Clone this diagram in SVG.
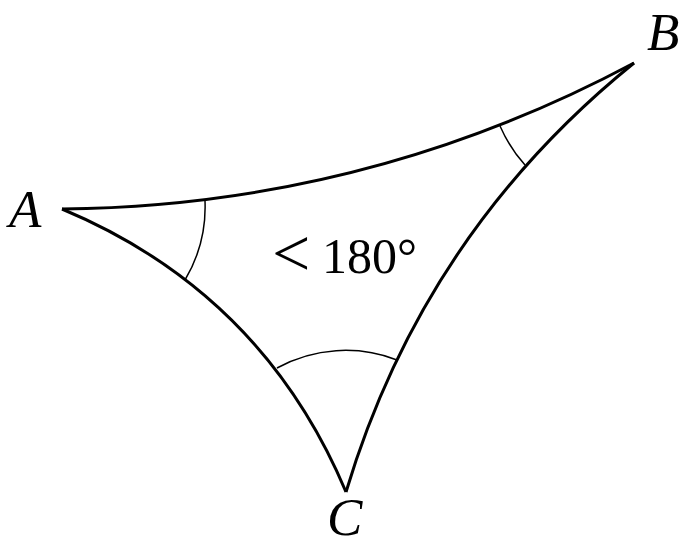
<svg xmlns="http://www.w3.org/2000/svg" width="681" height="545" viewBox="0 0 681 545">
<style>
.edge{fill:none;stroke:#000;stroke-width:3;stroke-linecap:butt}
.ang{fill:none;stroke:#000;stroke-width:1.5}
.lbl{font-family:"Liberation Serif",serif;font-style:italic;font-size:53px;fill:#000}
.txt{font-family:"Liberation Serif",serif;font-size:50px;fill:#000}
</style>
<rect width="681" height="545" fill="#fff"/>
<g id="connectors">
<path class="edge" d="M62,209 Q366,206 634,63"/>
<path class="edge" d="M62,209 Q262,292.5 346,492"/>
<path class="edge" d="M634,63 Q423.6,233 346,492"/>
</g>
<g id="angles">
<path class="ang" d="M205,201 A143,143 0 0 1 185,280"/>
<path class="ang" d="M500,126 A148,148 0 0 0 525,165"/>
<path class="ang" d="M277,368 A142,142 0 0 1 397,360"/>
</g>
<g id="A"><text class="lbl" x="9" y="227">A</text></g>
<g id="B"><text class="lbl" x="647" y="50">B</text></g>
<g id="C"><text class="lbl" x="327" y="535" font-size="51">C</text></g>
<g id="sum"><text class="txt" x="322" y="273"><tspan x="272" y="276" font-size="68">&lt;</tspan><tspan x="322" y="273">180°</tspan></text></g>
</svg>
